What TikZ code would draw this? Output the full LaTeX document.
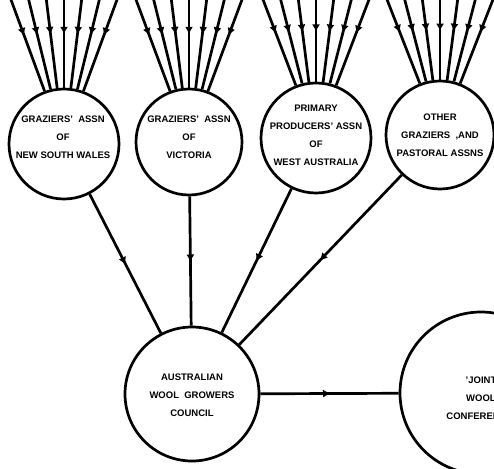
\documentclass[tikz,border=0pt]{standalone}
\usepackage{fontspec}
\setmainfont{Liberation Sans}
\usetikzlibrary{decorations.markings,arrows.meta}
\begin{document}
\begin{tikzpicture}[x=1pt,y=-1pt,
  circ/.style={circle,draw,line width=2.7pt,inner sep=0pt},
  lbl/.style={align=center,font=\fontsize{9.5}{18}\selectfont\bfseries},
  link/.style={line width=2.7pt,postaction={decorate},
    decoration={markings,mark=at position #1 with {\arrow{Triangle[length=6.5pt,width=7pt]}}}},
  link/.default=0.5]
\useasboundingbox (0,0) rectangle (494,468);
% association circles
\node[circ,minimum size=110pt] (nsw) at (64,144) {};
\node[circ,minimum size=106pt] (vic) at (189,142) {};
\node[circ,minimum size=110pt] (wa) at (316,138) {};
\node[circ,minimum size=108pt] (oth) at (440,135) {};
\node[circ,minimum size=134pt] (awgc) at (192,394) {};
\node[circ,minimum size=162pt] (jwc) at (481,393) {};
% labels
\node[lbl] (tnsw) at (63,137) {GRAZIERS'\ \ ASSN\\OF\\NEW SOUTH WALES};
\node[lbl] (tvic) at (189,137) {GRAZIERS'\ \ ASSN\\OF\\VICTORIA};
\node[lbl] (twa) at (316,135) {PRIMARY\\PRODUCERS'\ ASSN\\OF\\WEST AUSTRALIA};
\node[lbl] (toth) at (440,135) {OTHER\\GRAZIERS\ \ ,AND\\PASTORAL ASSNS};
\node[lbl] (tawgc) at (192,395) {AUSTRALIAN\\WOOL\ \ GROWERS\\COUNCIL};
\node[lbl] (tjwc) at (481,398) {'JOINT\\WOOL\\CONFERENCE'};
% fans of incoming lines
\foreach \n/\cx in {nsw/64,vic/189,wa/316,oth/440}{
  \foreach \o [count=\i] in {-54,-36,-18,0,18,36,54}{
    \coordinate (\n t\i) at (\cx+\o,-3);
    \draw[link=0.4] (\n t\i) -- (\n);
  }
}
% links to council
\draw[link] (nsw) -- (awgc);
\draw[link] (vic) -- (awgc);
\draw[link] (wa) -- (awgc);
\draw[link] (oth) -- (awgc);
\draw[link] (awgc) -- (jwc);
\end{tikzpicture}
\end{document}
